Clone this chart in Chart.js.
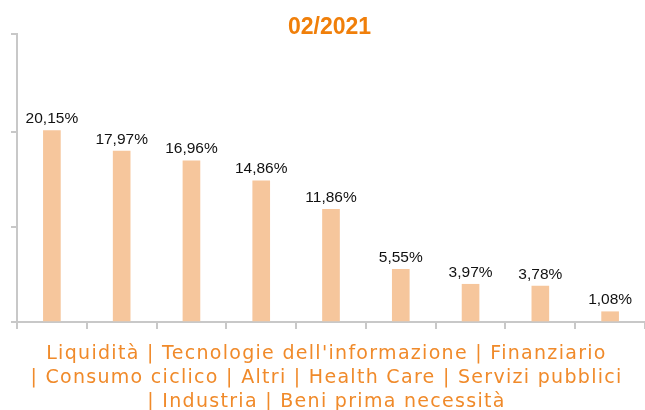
<!DOCTYPE html>
<html lang="it">
<head>
    <meta charset="UTF-8">
    <title>02/2021</title>
    <script src="https://cdn.jsdelivr.net/npm/chart.js"></script>
    <style>
        body {
            margin: 0;
            background-color: #ffffff;
        }

        .chart-container {
            position: relative;
            width: 645px;
            height: 410px;
        }
    </style>
</head>
<body>
    <div class="chart-container">
        <canvas id="sector-chart"></canvas>
    </div>

    <script>
        const chartTitle = '02/2021';
        const categories = ['Liquidità', 'Tecnologie dell\'informazione', 'Finanziario', 'Consumo ciclico', 'Altri', 'Health Care', 'Servizi pubblici', 'Industria', 'Beni prima necessità'];
        const weights = [20.15, 17.97, 16.96, 14.86, 11.86, 5.55, 3.97, 3.78, 1.08];
        // unlabelled tick marks on the value axis (the axis ends a little above 30)
        const yTicks = [0, 10, 20, 30.3];
        // where the category caption under the axis wraps
        const captionBreaks = [3, 7];

        const formatPct = v => v.toFixed(2).replace('.', ',') + '%';

        // Value labels above each bar
        const barLabels = {
            id: 'barLabels',
            afterDatasetsDraw(chart) {
                const ctx = chart.ctx;
                const meta = chart.getDatasetMeta(0);
                ctx.save();
                ctx.font = '15.5px "Liberation Sans", Arial, sans-serif';
                ctx.fillStyle = '#111111';
                ctx.textAlign = 'center';
                ctx.textBaseline = 'alphabetic';
                meta.data.forEach((bar, i) => {
                    ctx.fillText(formatPct(weights[i]), bar.x, bar.y - 7.5);
                });
                ctx.restore();
            }
        };

        // Category caption below the x axis
        const categoryCaption = {
            id: 'categoryCaption',
            afterDraw(chart) {
                const ctx = chart.ctx;
                const lines = [];
                let start = 0;
                captionBreaks.concat([categories.length]).forEach((end, n) => {
                    const part = categories.slice(start, end).join(' | ');
                    lines.push(n === 0 ? part : '| ' + part);
                    start = end;
                });
                ctx.save();
                ctx.font = '19px "DejaVu Sans", Verdana, sans-serif';
                ctx.letterSpacing = '1.3px';
                ctx.fillStyle = '#f08a2a';
                ctx.textAlign = 'center';
                ctx.textBaseline = 'alphabetic';
                lines.forEach((line, i) => {
                    ctx.fillText(line, chart.width / 2 + 4, 359 + i * 24);
                });
                ctx.restore();
            }
        };

        const ctxSector = document.getElementById('sector-chart').getContext('2d');
        const sectorChart = new Chart(ctxSector, {
            type: 'bar',
            data: {
                labels: categories,
                datasets: [{
                    data: weights,
                    backgroundColor: '#f6c69c',
                    barThickness: 17
                }]
            },
            options: {
                responsive: true,
                maintainAspectRatio: false,
                animation: false,
                layout: {
                    padding: {
                        left: 11,
                        right: -3,
                        top: 0,
                        bottom: 81
                    }
                },
                scales: {
                    x: {
                        grid: {
                            drawOnChartArea: false,
                            color: '#c8c8c8',
                            lineWidth: 2,
                            tickLength: 7
                        },
                        border: {
                            color: '#c8c8c8',
                            width: 2
                        },
                        ticks: {
                            display: false
                        }
                    },
                    y: {
                        min: yTicks[0],
                        max: yTicks[yTicks.length - 1],
                        afterBuildTicks: axis => {
                            axis.ticks = yTicks.map(v => ({ value: v }));
                        },
                        grid: {
                            drawOnChartArea: false,
                            color: '#c8c8c8',
                            lineWidth: 2,
                            tickLength: 6
                        },
                        border: {
                            color: '#c8c8c8',
                            width: 2
                        },
                        ticks: {
                            display: false
                        }
                    }
                },
                plugins: {
                    legend: {
                        display: false
                    },
                    tooltip: {
                        enabled: false
                    },
                    title: {
                        display: true,
                        text: chartTitle,
                        color: '#f07f0a',
                        font: {
                            family: '"Liberation Sans", Arial, sans-serif',
                            size: 23,
                            weight: 'bold',
                            lineHeight: 1
                        },
                        padding: {
                            top: 16,
                            bottom: -5
                        }
                    }
                }
            },
            plugins: [barLabels, categoryCaption]
        });
    </script>
</body>
</html>
